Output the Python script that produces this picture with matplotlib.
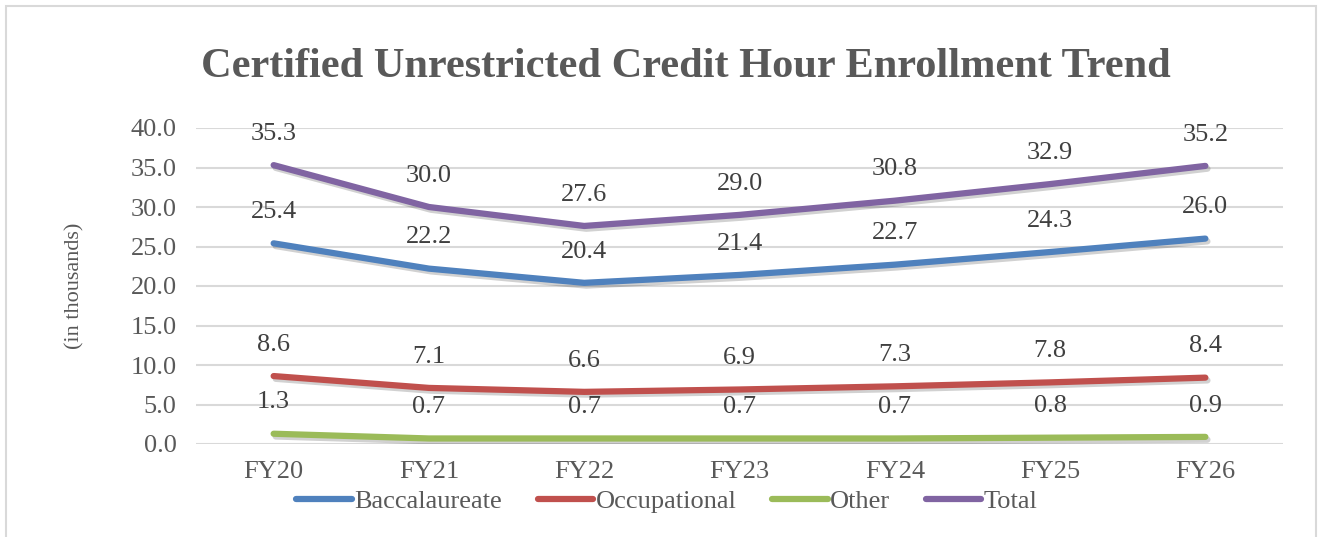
import matplotlib
matplotlib.use("Agg")
import matplotlib.pyplot as plt
import matplotlib.patheffects as pe
from matplotlib.patches import Rectangle

categories = ["FY20", "FY21", "FY22", "FY23", "FY24", "FY25", "FY26"]
baccalaureate = [25.4, 22.2, 20.4, 21.4, 22.7, 24.3, 26.0]
occupational = [8.6, 7.1, 6.6, 6.9, 7.3, 7.8, 8.4]
other = [1.3, 0.7, 0.7, 0.7, 0.7, 0.8, 0.9]
total = [35.3, 30.0, 27.6, 29.0, 30.8, 32.9, 35.2]
yticks = [0, 5, 10, 15, 20, 25, 30, 35, 40]

series = [
    ("Baccalaureate", baccalaureate, "#4F81BD"),
    ("Occupational", occupational, "#C0504D"),
    ("Other", other, "#9BBB59"),
    ("Total", total, "#8064A2"),
]

plt.rcParams['font.family'] = ['Liberation Serif', 'DejaVu Serif']
TXT = "#595959"
FS = 19

fig = plt.figure(figsize=(13.2, 5.37), dpi=100)
ax = fig.add_axes([196/1320, 1-444/537, (1283-196)/1320, (444-128)/537])

fig.patches.append(Rectangle((6/1320, -0.05), (1316-6)/1320, 1.05 - 6/537,
                             transform=fig.transFigure, fill=False,
                             edgecolor="#D9D9D9", lw=1.5))

x = list(range(len(categories)))
for name, vals, col in series:
    ax.plot(x, vals, color=col, lw=4.5, solid_capstyle="round",
            solid_joinstyle="round", label=name, zorder=3,
            path_effects=[pe.SimpleLineShadow(offset=(1.5, -2), alpha=0.18, shadow_color="black"),
                          pe.Normal()])
    for xi, v in zip(x, vals):
        ax.annotate(f"{v:.1f}", (xi, v), xytext=(0, 22.5), textcoords="offset points",
                    ha="center", va="center", fontsize=FS, color="#404040", zorder=4)

ax.set_xlim(-0.5, len(categories) - 0.5)
ax.set_ylim(0, 40)
ax.set_yticks(yticks)
ax.set_yticklabels([f"{t:.1f}" for t in yticks])
ax.set_xticks(x)
ax.set_xticklabels(categories)
ax.yaxis.grid(True, color="#D9D9D9", lw=1.5)
ax.set_axisbelow(True)
for s in ax.spines.values():
    s.set_visible(False)
ax.tick_params(axis="both", length=0, labelsize=FS, colors=TXT)
ax.tick_params(axis="y", pad=14)
ax.tick_params(axis="x", pad=12)

ax.set_ylabel("(in thousands)", fontsize=16, color=TXT)
ax.yaxis.set_label_coords(-0.103, 0.5)

fig.text(686/1320, 1-67/537, "Certified Unrestricted Credit Hour Enrollment Trend",
         ha="center", va="center", fontsize=30.5, fontweight="bold", color=TXT)

leg = ax.legend(loc="center", bbox_to_anchor=(667/1320, 1-501/537),
                bbox_transform=fig.transFigure, ncol=4, frameon=False,
                fontsize=FS, handlelength=2.1, handletextpad=0.1,
                columnspacing=1.35, labelcolor=TXT)
for h in leg.get_lines():
    h.set_linewidth(4.5)
    h.set_solid_capstyle("round")
    h.set_path_effects([])

fig.savefig("out.png", dpi=100)
